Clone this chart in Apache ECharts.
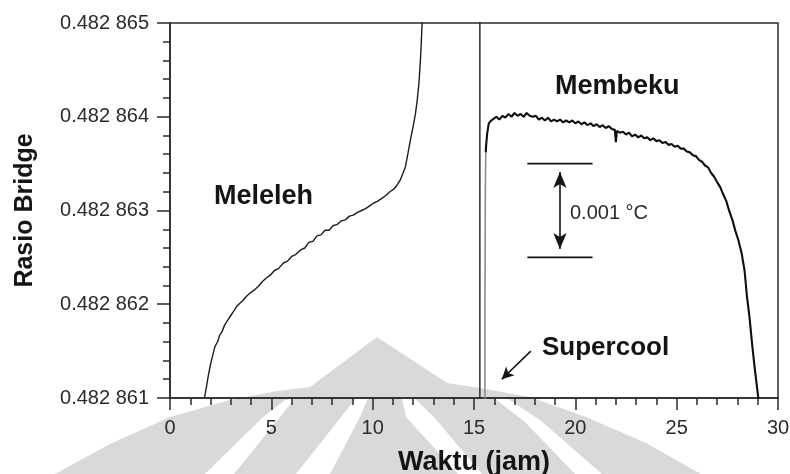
<!DOCTYPE html>
<html>
<head>
<meta charset="utf-8">
<script src="https://cdn.jsdelivr.net/npm/echarts@6/dist/echarts.min.js"></script>
<style>
  html, body { margin: 0; padding: 0; background: #ffffff; }
  #chart { width: 790px; height: 474px; }
</style>
</head>
<body>
<div id="chart"></div>
<script>
// Melting run: elapsed time (jam) and bridge ratio; the last points carry the
// trace off the top of the scale and back down when the cell is cooled again.
const meltTime = [
  1.70, 1.80, 1.90, 2.00, 2.10, 2.22, 2.35, 2.45, 2.55, 2.70,
  2.85, 3.00, 3.15, 3.30, 3.45, 3.60, 3.75, 3.95, 4.15, 4.35,
  4.55, 4.75, 4.95, 5.15, 5.35, 5.60, 5.80, 6.00, 6.20, 6.45,
  6.65, 6.85, 7.05, 7.25, 7.45, 7.65, 7.85, 8.05, 8.25, 8.45,
  8.65, 8.85, 9.05, 9.25, 9.45, 9.65, 9.85, 10.05, 10.25, 10.45,
  10.65, 10.85, 11.05, 11.20, 11.35, 11.50, 11.62, 11.75, 11.86, 12.00,
  12.11, 12.20, 12.28, 12.34, 12.38, 12.42, 12.45, 12.52, 15.29, 15.29
];
const meltRatio = [
  0.48286100, 0.48286112, 0.48286125, 0.48286136, 0.48286145, 0.48286155, 0.48286160, 0.48286167, 0.48286170, 0.48286178,
  0.48286183, 0.48286188, 0.48286193, 0.48286198, 0.48286201, 0.48286204, 0.48286208, 0.48286212, 0.48286215, 0.48286219,
  0.48286224, 0.48286228, 0.48286231, 0.48286236, 0.48286238, 0.48286244, 0.48286246, 0.48286251, 0.48286253, 0.48286258,
  0.48286260, 0.48286266, 0.48286267, 0.48286273, 0.48286274, 0.48286279, 0.48286279, 0.48286284, 0.48286285, 0.48286289,
  0.48286290, 0.48286294, 0.48286295, 0.48286298, 0.48286300, 0.48286302, 0.48286305, 0.48286308, 0.48286310, 0.48286313,
  0.48286316, 0.48286320, 0.48286323, 0.48286327, 0.48286332, 0.48286340, 0.48286347, 0.48286362, 0.48286375, 0.48286390,
  0.48286403, 0.48286418, 0.48286435, 0.48286455, 0.48286470, 0.48286490, 0.48286505, 0.48286540, 0.48286540, 0.48286060
];

// Recalescence after the supercool dip
const riseTime = [15.54, 15.54, 15.56, 15.58];
const riseRatio = [0.48286060, 0.48286200, 0.48286320, 0.48286362];

// Freezing plateau
const freezeTime = [
  15.58, 15.60, 15.65, 15.73, 15.85, 15.98, 16.10, 16.25, 16.40, 16.55,
  16.70, 16.85, 17.00, 17.15, 17.30, 17.45, 17.60, 17.75, 17.90, 18.05,
  18.20, 18.35, 18.50, 18.65, 18.80, 18.95, 19.10, 19.25, 19.40, 19.55,
  19.70, 19.85, 20.00, 20.15, 20.30, 20.45, 20.60, 20.75, 20.90, 21.05,
  21.20, 21.35, 21.50, 21.65, 21.80, 21.95, 22.00, 22.05, 22.20, 22.35,
  22.50, 22.65, 22.80, 22.95, 23.10, 23.25, 23.40, 23.55, 23.70, 23.85,
  24.00, 24.15, 24.30, 24.45, 24.60, 24.75, 24.90, 25.05, 25.20, 25.35,
  25.50, 25.65, 25.80, 25.95, 26.10, 26.25, 26.40, 26.55, 26.70, 26.85,
  27.00, 27.15, 27.30, 27.45, 27.60, 27.75, 27.90, 28.05, 28.20, 28.35,
  28.47, 28.60, 28.72, 28.85, 28.95, 29.03, 29.08
];
const freezeRatio = [
  0.48286362, 0.48286370, 0.48286382, 0.48286393, 0.48286396, 0.48286398, 0.48286400, 0.48286397, 0.48286401, 0.48286399,
  0.48286403, 0.48286400, 0.48286404, 0.48286401, 0.48286403, 0.48286400, 0.48286404, 0.48286401, 0.48286400, 0.48286401,
  0.48286397, 0.48286399, 0.48286396, 0.48286399, 0.48286395, 0.48286397, 0.48286395, 0.48286397, 0.48286394, 0.48286396,
  0.48286394, 0.48286396, 0.48286393, 0.48286395, 0.48286392, 0.48286394, 0.48286391, 0.48286393, 0.48286390, 0.48286392,
  0.48286389, 0.48286391, 0.48286388, 0.48286390, 0.48286387, 0.48286386, 0.48286373, 0.48286385, 0.48286383, 0.48286384,
  0.48286381, 0.48286383, 0.48286379, 0.48286381, 0.48286378, 0.48286380, 0.48286377, 0.48286378, 0.48286375, 0.48286377,
  0.48286374, 0.48286375, 0.48286372, 0.48286373, 0.48286370, 0.48286371, 0.48286368, 0.48286369, 0.48286366, 0.48286366,
  0.48286363, 0.48286362, 0.48286359, 0.48286358, 0.48286354, 0.48286352, 0.48286348, 0.48286346, 0.48286340, 0.48286336,
  0.48286330, 0.48286325, 0.48286317, 0.48286310, 0.48286299, 0.48286290, 0.48286278, 0.48286268, 0.48286255, 0.48286236,
  0.48286208, 0.48286185, 0.48286158, 0.48286132, 0.48286114, 0.48286100, 0.48286070
];

// 0.001 °C scale bar (ratio span and horizontal extent)
const scaleBarRatio = [0.4828635, 0.4828625];
const scaleBarTime = [17.63, 20.85];
const scaleBarArrowTime = 19.24;

// Axis ranges
const timeRange = [0, 30];
const ratioRange = [0.482861, 0.482865];

const pairs = (xs, ys) => xs.map((x, i) => [x, ys[i]]);
const ratioLabel = v => v.toFixed(6).replace(/^(0\.\d{3})/, '$1 ');

const TXT = '#2b2b2b';
const INK = '#141414';
const FONT = '"Liberation Sans", Arial, sans-serif';

// faint emblem behind the plot
const emblemFill = '#d9d9d9';
const emblem = [
  { type: 'polygon', z: -5, silent: true, style: { fill: emblemFill },
    shape: { points: [[55,474],[110,444],[170,417],[230,400],[277,391],[310,387],[377,337],[447,383],[480,388],[530,397],[586,417],[646,443],[701,474]] } },
  { type: 'polygon', z: -4, silent: true, style: { fill: '#ffffff' },
    shape: { points: [[296,474],[330,474],[360,417],[368,398],[356,398],[341,417]] } },
  { type: 'polygon', z: -4, silent: true, style: { fill: '#ffffff' },
    shape: { points: [[402,398],[414,398],[434,417],[482,474],[458,474],[406,417]] } },
  { type: 'polygon', z: -4, silent: true, style: { fill: '#ffffff' },
    shape: { points: [[205,474],[234,474],[284,412],[295,398],[285,400],[262,418]] } },
  { type: 'polygon', z: -4, silent: true, style: { fill: '#ffffff' },
    shape: { points: [[575,474],[602,474],[540,420],[505,397],[494,398],[525,422]] } }
];

const note = (text, x, y, size, bold) => ({
  type: 'text', x: x, y: y, z: 10, silent: true,
  style: { text: text, fill: bold ? INK : TXT, font: (bold ? 'bold ' : '') + size + 'px ' + FONT,
           align: 'left', verticalAlign: 'middle' }
});

const chart = echarts.init(document.getElementById('chart'), null, { renderer: 'canvas' });
chart.setOption({
  animation: false,
  backgroundColor: '#ffffff',
  grid: {
    left: 170, right: 12, top: 23, bottom: 76,
    containLabel: false, outerBoundsMode: 'none',
    show: true, borderColor: '#2a2a2a', borderWidth: 1.5, backgroundColor: 'transparent'
  },
  xAxis: {
    type: 'value', min: timeRange[0], max: timeRange[1], interval: 5,
    name: 'Waktu (jam)', nameLocation: 'middle', nameGap: 51,
    nameTextStyle: { fontSize: 27, fontWeight: 'bold', color: INK, fontFamily: FONT },
    axisLine: { show: true, lineStyle: { color: '#2a2a2a', width: 1.5 } },
    axisTick: { show: true, inside: false, length: 12, lineStyle: { color: '#2a2a2a', width: 1.5 } },
    minorTick: { show: true, splitNumber: 5, length: 7, lineStyle: { color: '#2a2a2a', width: 1.5 } },
    splitLine: { show: false },
    axisLabel: { margin: 20, fontSize: 20, color: TXT, fontFamily: FONT }
  },
  yAxis: {
    type: 'value', min: ratioRange[0], max: ratioRange[1], interval: 0.000001,
    name: 'Rasio Bridge', nameLocation: 'middle', nameGap: 132,
    nameTextStyle: { fontSize: 25, fontWeight: 'bold', color: INK, fontFamily: FONT },
    axisLine: { show: true, lineStyle: { color: '#2a2a2a', width: 1.5 } },
    axisTick: { show: true, inside: false, length: 13, lineStyle: { color: '#2a2a2a', width: 1.5 } },
    minorTick: { show: true, splitNumber: 5, length: 7, lineStyle: { color: '#2a2a2a', width: 1.5 } },
    splitLine: { show: false },
    axisLabel: { margin: 21, fontSize: 20, color: TXT, fontFamily: FONT, formatter: ratioLabel }
  },
  series: [
    {
      name: 'Meleleh', type: 'line', data: pairs(meltTime, meltRatio),
      showSymbol: false, symbol: 'none', clip: true, silent: true,
      lineStyle: { color: '#1c1c1c', width: 1.4 }
    },
    {
      name: 'Supercool', type: 'line', data: pairs(riseTime, riseRatio),
      showSymbol: false, symbol: 'none', clip: true, silent: true,
      lineStyle: { color: '#8c8c8c', width: 1.6 }
    },
    {
      name: 'Membeku', type: 'line', data: pairs(freezeTime, freezeRatio),
      showSymbol: false, symbol: 'none', clip: true, silent: true,
      lineStyle: { color: '#0f0f0f', width: 2.1 },
      markLine: {
        silent: true, animation: false,
        symbol: ['arrow', 'arrow'], symbolSize: [10, 16],
        label: { show: false },
        lineStyle: { color: INK, width: 1.6, type: 'solid' },
        emphasis: { disabled: true },
        data: [
          [ { coord: [scaleBarArrowTime, 0.48286341] }, { coord: [scaleBarArrowTime, 0.48286259] } ],
          [ { coord: [17.80, 0.48286150], symbol: 'none' }, { coord: [16.37, 0.48286120], symbol: 'arrow', symbolSize: [9, 12] } ]
        ]
      }
    },
    {
      name: 'skala atas', type: 'line', data: pairs(scaleBarTime, [scaleBarRatio[0], scaleBarRatio[0]]),
      showSymbol: false, symbol: 'none', silent: true,
      lineStyle: { color: INK, width: 1.6 }
    },
    {
      name: 'skala bawah', type: 'line', data: pairs(scaleBarTime, [scaleBarRatio[1], scaleBarRatio[1]]),
      showSymbol: false, symbol: 'none', silent: true,
      lineStyle: { color: INK, width: 1.6 }
    }
  ],
  graphic: emblem.concat([
    note('Meleleh', 214, 197, 27, true),
    note('Membeku', 555, 87, 27, true),
    note('Supercool', 542, 348, 26, true),
    note('0.001 \u00B0C', 570, 213, 20, false)
  ])
});
</script>
</body>
</html>
